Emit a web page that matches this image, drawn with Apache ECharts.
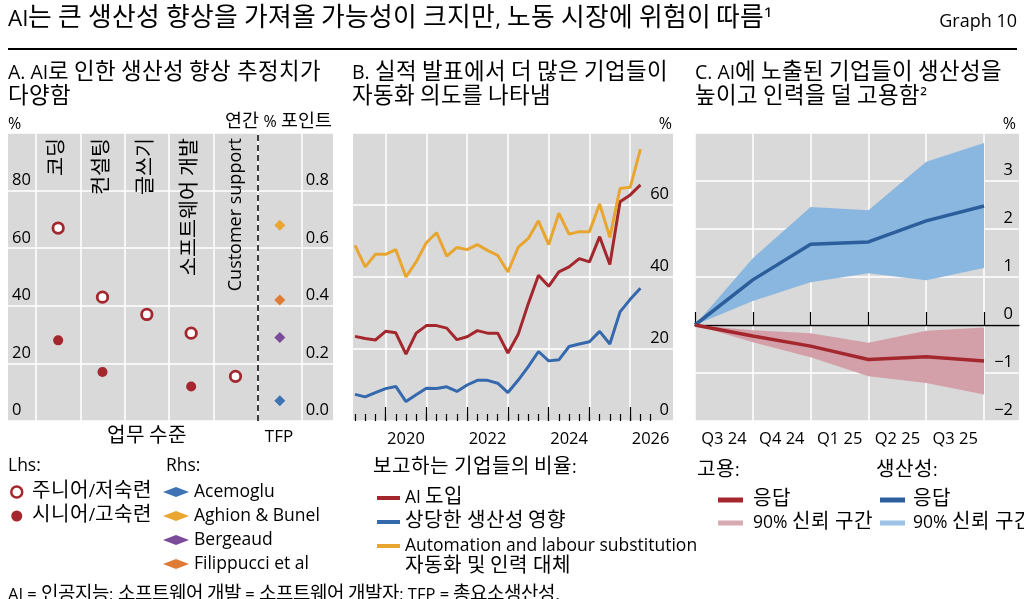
<!DOCTYPE html>
<html>
<head>
<meta charset="utf-8">
<script src="https://cdn.jsdelivr.net/npm/echarts@6/dist/echarts.min.js"></script>
<style>
  /* hangul a bit larger than the latin text, like the original */
  @font-face {
    font-family: 'KRwide';
    src: local('Noto Sans CJK KR Regular'), local('NotoSansCJKkr-Regular'), local('Noto Sans CJK KR');
    size-adjust: 115%;
    unicode-range: U+1100-11FF, U+3130-318F, U+AC00-D7AF;
  }
  html, body { margin: 0; padding: 0; background: #fff; }
  #main { width: 1024px; height: 599px; }
</style>
</head>
<body>
<div id="main"></div>
<script>
// panel A: productivity gains by task (lhs %) and TFP studies (rhs annual pp)
const tasks = ['코딩', '컨설팅', '글쓰기', '소프트웨어 개발', 'Customer support'];
const juniorGain = [67, 43, 37, 30.5, 15.5];
const seniorGain = [28, 17, null, 12, null];
const tfpStudies = ['Acemoglu', 'Aghion & Bunel', 'Bergeaud', 'Filippucci et al'];
const tfpGain = [0.07, 0.68, 0.29, 0.42];
const tfpColors = ['#3E73B4', '#EAA532', '#7A4B9B', '#DF7B35'];

// panel B: share of firms in earnings calls, quarterly
const quarters = [
  '2019Q2', '2019Q3', '2019Q4',
  '2020Q1', '2020Q2', '2020Q3', '2020Q4',
  '2021Q1', '2021Q2', '2021Q3', '2021Q4',
  '2022Q1', '2022Q2', '2022Q3', '2022Q4',
  '2023Q1', '2023Q2', '2023Q3', '2023Q4',
  '2024Q1', '2024Q2', '2024Q3', '2024Q4',
  '2025Q1', '2025Q2', '2025Q3', '2025Q4',
  '2026Q1', '2026Q2', '2026Q3', '2026Q4',
  '2027Q1'
];
const aiAdoption = [23.5, 22.9, 22.5, 24.9, 24.5, 18.6, 24.4, 26.5, 26.5, 25.8, 22.6, 23.4, 25.1, 24.4, 24.4,
  18.9, 24.0, 32.6, 40.5, 37.4, 41.4, 42.8, 45.1, 44.2, 51.2, 43.5, 60.9, 62.8, 65.6];
const bigProductivity = [7.4, 6.7, 7.9, 9.0, 9.6, 5.4, 7.3, 9.1, 9.0, 9.5, 8.2, 10.0, 11.3, 11.3, 10.5,
  7.9, 11.3, 15.1, 19.3, 16.7, 17.0, 20.7, 21.4, 22.0, 24.9, 21.4, 30.3, 33.8, 36.9];
const automation = [48.8, 42.8, 46.3, 46.3, 47.6, 40.0, 44.2, 49.5, 52.3, 45.8, 48.2, 47.6, 49.0, 47.4, 46.0,
  41.4, 48.2, 50.7, 55.6, 49.0, 57.7, 51.9, 52.6, 52.6, 60.3, 51.0, 64.6, 64.9, 75.5];

// panel C: response of AI-exposed firms
const cQuarters = ['Q3 24', 'Q4 24', 'Q1 25', 'Q2 25', 'Q3 25'];
const cSteps = ['0', '1', '2', '3', '4', '5'];
const prodResp = [0, 0.94, 1.68, 1.73, 2.17, 2.48];
const prodLow = [0, 0.50, 0.89, 1.08, 0.93, 1.19];
const prodHigh = [0, 1.39, 2.46, 2.39, 3.40, 3.79];
const empResp = [0, -0.23, -0.44, -0.72, -0.66, -0.75];
const empLow = [0, -0.36, -0.67, -1.07, -1.21, -1.45];
const empHigh = [0, -0.11, -0.17, -0.37, -0.12, -0.05];

const FF = '"Open Sans", "KRwide", "Noto Sans CJK KR", sans-serif';
const RED = '#A3272D';
const GREY = '#D9D9D9';
const gridLine = { show: true, lineStyle: { color: '#fff', width: 1.5 } };
const tickFont = { fontFamily: FF, fontSize: 16.5, color: '#000' };
const legendFont = { fontFamily: FF, fontSize: 17.5, color: '#000', lineHeight: 20 };

function txt(x, y, text, size, align) {
  return {
    type: 'text', x: x, y: y, silent: true,
    style: { text: text, font: size + 'px ' + FF, fill: '#000', align: align || 'left', verticalAlign: 'middle' }
  };
}

function draw() {
  var myChart = echarts.init(document.getElementById('main'));
  const PT = 133, PH = 288;

  var option = {
    animation: false,
    grid: [
      { left: 8, top: PT, width: 325, height: PH, show: true, backgroundColor: GREY, borderWidth: 0 },
      { left: 36, top: PT, width: 266, height: PH },
      { left: 353, top: PT, width: 320, height: PH, show: true, backgroundColor: GREY, borderWidth: 0 },
      { left: 355, top: PT, width: 316, height: PH },
      { left: 695, top: PT, width: 324, height: PH, show: true, backgroundColor: GREY, borderWidth: 0 },
      { left: 695, top: PT, width: 289, height: PH }
    ],
    xAxis: [
      { gridIndex: 0, type: 'value', min: 0, max: 1, show: false },
      {
        gridIndex: 1, type: 'value', position: 'bottom', min: 0, max: 6, interval: 1,
        axisLine: { show: false }, axisTick: { show: false }, axisLabel: { show: false },
        splitLine: gridLine
      },
      {
        gridIndex: 1, type: 'category', position: 'top', data: tasks.concat(['']),
        axisLine: { show: false }, axisTick: { show: false }, splitLine: { show: false },
        axisLabel: Object.assign({ inside: true, rotate: 90, margin: 5, interval: 0, align: 'right', verticalAlign: 'middle' },
          tickFont, { fontSize: 18 })
      },
      { gridIndex: 2, type: 'value', min: 0, max: 1, show: false },
      {
        gridIndex: 3, type: 'category', position: 'bottom', data: quarters, boundaryGap: false,
        axisLine: { show: false },
        axisTick: { inside: true, length: 7, lineStyle: { color: '#000', width: 1.2 }, interval: (i) => i <= 29 },
        axisLabel: Object.assign({ margin: 10, interval: (i) => [5, 13, 21, 29].indexOf(i) >= 0, formatter: (v) => v.slice(0, 4) }, tickFont),
        splitLine: { show: true, interval: (i) => i % 4 === 3 && i <= 27, lineStyle: { color: '#fff', width: 1.5 } }
      },
      {
        gridIndex: 3, type: 'category', position: 'bottom', offset: 0, data: quarters, boundaryGap: false,
        axisLine: { show: false }, axisLabel: { show: false }, splitLine: { show: false },
        axisTick: { inside: true, length: 14, lineStyle: { color: '#000', width: 1.2 }, interval: (i) => i % 4 === 3 && i <= 27 }
      },
      {
        gridIndex: 4, type: 'value', min: 0, max: 1,
        axisLine: { show: true, onZero: true, lineStyle: { color: '#000', width: 1.3 } },
        axisTick: { show: false }, axisLabel: { show: false }, splitLine: { show: false }
      },
      {
        gridIndex: 5, type: 'category', position: 'bottom', data: cSteps, boundaryGap: false,
        axisLine: { show: false },
        axisTick: { inside: true, length: 13, interval: 0, lineStyle: { color: '#000', width: 1.2 } },
        axisLabel: Object.assign({ margin: 10, interval: 0, padding: [0, 0, 0, 58], align: 'center',
          formatter: (v, i) => cQuarters[i] || '' }, tickFont),
        splitLine: { show: true, interval: 0, lineStyle: { color: '#fff', width: 1.5 } }
      }
    ],
    yAxis: [
      {
        gridIndex: 0, type: 'value', position: 'left', min: 0, max: 100, interval: 20,
        axisLine: { show: false }, axisTick: { show: false }, splitLine: gridLine,
        axisLabel: Object.assign({ inside: true, margin: 4, verticalAlign: 'bottom', padding: [0, 0, 2, 0], formatter: (v) => v >= 100 ? '' : v }, tickFont)
      },
      {
        gridIndex: 0, type: 'value', position: 'right', min: 0, max: 1, interval: 0.2,
        axisLine: { show: false }, axisTick: { show: false }, splitLine: { show: false },
        axisLabel: Object.assign({ inside: true, margin: 4, verticalAlign: 'bottom', padding: [0, 0, 2, 0], formatter: (v) => v >= 1 ? '' : v.toFixed(1) }, tickFont)
      },
      { gridIndex: 1, type: 'value', position: 'left', min: 0, max: 100, show: false },
      { gridIndex: 1, type: 'value', position: 'right', min: 0, max: 1, show: false },
      {
        gridIndex: 2, type: 'value', position: 'right', min: 0, max: 80, interval: 20,
        axisLine: { show: false }, axisTick: { show: false }, splitLine: gridLine,
        axisLabel: Object.assign({ inside: true, margin: 4, verticalAlign: 'bottom', padding: [0, 0, 2, 0], formatter: (v) => v >= 80 ? '' : v }, tickFont)
      },
      { gridIndex: 3, type: 'value', min: 0, max: 80, show: false },
      {
        gridIndex: 4, type: 'value', position: 'right', min: -2, max: 4, interval: 1,
        axisLine: { show: false }, axisTick: { show: false }, splitLine: gridLine,
        axisLabel: Object.assign({ inside: true, margin: 6, verticalAlign: 'bottom', padding: [0, 0, 2, 0],
          formatter: (v) => v >= 4 ? '' : (v < 0 ? '\u2212' + (-v) : String(v)) }, tickFont)
      },
      { gridIndex: 5, type: 'value', min: -2, max: 4, show: false }
    ],
    legend: [
      {
        orient: 'vertical', left: 10, top: 482, padding: 0, itemWidth: 14, itemHeight: 11, itemGap: 4,
        textStyle: Object.assign({ padding: [0, 0, 0, 3] }, legendFont),
        data: [
          { name: '주니어/저숙련', icon: 'circle', itemStyle: { color: '#fff', borderColor: RED, borderWidth: 2.5 } },
          { name: '시니어/고숙련', icon: 'circle' }
        ]
      },
      {
        orient: 'vertical', left: 163, top: 482, padding: 0, itemWidth: 26, itemHeight: 10, itemGap: 4, textStyle: legendFont,
        data: tfpStudies.map((n) => ({ name: n, icon: 'diamond' }))
      },
      {
        orient: 'vertical', left: 377, top: 488, padding: 0, itemWidth: 23, itemHeight: 4, itemGap: 4, icon: 'rect', textStyle: legendFont,
        data: ['AI 도입', '상당한 생산성 영향', 'Automation and labour substitution']
      },
      {
        orient: 'vertical', left: 718, top: 490, padding: 0, itemWidth: 25, itemHeight: 5, itemGap: 3, icon: 'rect',
        textStyle: Object.assign({ padding: [0, 0, 0, 5] }, legendFont),
        formatter: (n) => n.split(': ')[1],
        data: ['고용: 응답', '고용: 90% 신뢰 구간']
      },
      {
        orient: 'vertical', left: 880, top: 490, padding: 0, itemWidth: 25, itemHeight: 5, itemGap: 3, icon: 'rect',
        textStyle: Object.assign({ padding: [0, 0, 0, 3] }, legendFont),
        formatter: (n) => n.split(': ')[1],
        data: ['생산성: 응답', '생산성: 90% 신뢰 구간']
      }
    ],
    series: [
      {
        name: '주니어/저숙련', type: 'scatter', xAxisIndex: 1, yAxisIndex: 2,
        data: juniorGain.map((v, i) => [i + 0.5, v]).filter((d) => d[1] != null),
        symbol: 'circle', symbolSize: 10.5, z: 4,
        itemStyle: { color: '#fff', borderColor: RED, borderWidth: 2.8, opacity: 1 },
        markLine: {
          silent: true, symbol: ['none', 'none'], label: { show: false },
          lineStyle: { color: '#000', type: [6, 4], width: 1.5 },
          data: [{ xAxis: 5 }]
        }
      },
      {
        name: '시니어/고숙련', type: 'scatter', xAxisIndex: 1, yAxisIndex: 2,
        data: seniorGain.map((v, i) => [i + 0.5, v]).filter((d) => d[1] != null),
        symbol: 'circle', symbolSize: 10, z: 4,
        itemStyle: { color: RED, opacity: 1 }
      }
    ].concat(tfpStudies.map((n, i) => ({
      name: n, type: 'scatter', xAxisIndex: 1, yAxisIndex: 3,
      data: [[5.5, tfpGain[i]]], symbol: 'diamond', symbolSize: 11, z: 4,
      itemStyle: { color: tfpColors[i], opacity: 1 }
    }))).concat([
      {
        name: 'AI 도입', type: 'line', xAxisIndex: 4, yAxisIndex: 5, data: aiAdoption,
        showSymbol: false, symbol: 'none', color: RED, lineStyle: { width: 3, color: RED }
      },
      {
        name: '상당한 생산성 영향', type: 'line', xAxisIndex: 4, yAxisIndex: 5, data: bigProductivity,
        showSymbol: false, symbol: 'none', color: '#3569AE', lineStyle: { width: 3, color: '#3569AE' }
      },
      {
        name: 'Automation and labour substitution', type: 'line', xAxisIndex: 4, yAxisIndex: 5, data: automation,
        showSymbol: false, symbol: 'none', color: '#E8A631', lineStyle: { width: 3, color: '#E8A631' }
      },
      {
        name: '생산성: 하한', type: 'line', xAxisIndex: 7, yAxisIndex: 7, data: prodLow,
        stack: 'prod', stackStrategy: 'all', symbol: 'none', lineStyle: { opacity: 0 }
      },
      {
        name: '생산성: 90% 신뢰 구간', type: 'line', xAxisIndex: 7, yAxisIndex: 7,
        data: prodHigh.map((h, i) => h - prodLow[i]),
        stack: 'prod', stackStrategy: 'all', symbol: 'none', color: '#9CC3E6',
        lineStyle: { opacity: 0 }, areaStyle: { color: '#8AB7E0', opacity: 1 }
      },
      {
        name: '고용: 하한', type: 'line', xAxisIndex: 7, yAxisIndex: 7, data: empLow,
        stack: 'emp', stackStrategy: 'all', symbol: 'none', lineStyle: { opacity: 0 }
      },
      {
        name: '고용: 90% 신뢰 구간', type: 'line', xAxisIndex: 7, yAxisIndex: 7,
        data: empHigh.map((h, i) => h - empLow[i]),
        stack: 'emp', stackStrategy: 'all', symbol: 'none', color: '#D8AAB3',
        lineStyle: { opacity: 0 }, areaStyle: { color: '#D3A0A9', opacity: 1 }
      },
      {
        name: '생산성: 응답', type: 'line', xAxisIndex: 7, yAxisIndex: 7, data: prodResp,
        symbol: 'none', color: '#2C5E9C', lineStyle: { width: 3.5, color: '#2C5E9C' }, z: 5
      },
      {
        name: '고용: 응답', type: 'line', xAxisIndex: 7, yAxisIndex: 7, data: empResp,
        symbol: 'none', color: RED, lineStyle: { width: 3.5, color: RED }, z: 5
      }
    ]),
    graphic: [
      txt(8, 20, 'AI는 큰 생산성 향상을 가져올 가능성이 크지만, 노동 시장에 위험이 따름\u00B9', 22.4),
      txt(1017, 22, 'Graph 10', 18, 'right'),
      { type: 'line', silent: true, shape: { x1: 8, y1: 49, x2: 1017, y2: 49 }, style: { stroke: '#000', lineWidth: 2 } },
      txt(8, 73, 'A. AI로 인한 생산성 향상 추정치가', 19.5),
      txt(8, 97, '다양함', 19.5),
      txt(352, 73, 'B. 실적 발표에서 더 많은 기업들이', 19.5),
      txt(352, 97, '자동화 의도를 나타냄', 19.5),
      txt(695, 73, 'C. AI에 노출된 기업들이 생산성을', 19.5),
      txt(695, 97, '높이고 인력을 덜 고용함\u00B2', 19.5),
      txt(8, 124, '%', 16),
      txt(332, 122, '연간 % 포인트', 16, 'right'),
      txt(672, 124, '%', 16, 'right'),
      txt(1016, 124, '%', 16, 'right'),
      txt(147, 437, '업무 수준', 17.5, 'center'),
      txt(279, 437, 'TFP', 17, 'center'),
      txt(8, 466, 'Lhs:', 17.5),
      txt(166, 466, 'Rhs:', 17.5),
      txt(373, 468, '보고하는 기업들의 비율:', 17.5),
      txt(405, 567, '자동화 및 인력 대체', 17.5),
      txt(697, 471, '고용:', 17.5),
      txt(876, 471, '생산성:', 17.5),
      txt(8, 595, 'AI = 인공지능; 소프트웨어 개발 = 소프트웨어 개발자; TFP = 총요소생산성.', 16.5)
    ]
  };

  myChart.setOption(option);
}

if (document.fonts && document.fonts.load) {
  Promise.all([
    document.fonts.load('18px KRwide', '가'),
    document.fonts.load('18px "Open Sans"', 'A')
  ]).then(draw, draw);
} else {
  draw();
}
</script>
</body>
</html>
